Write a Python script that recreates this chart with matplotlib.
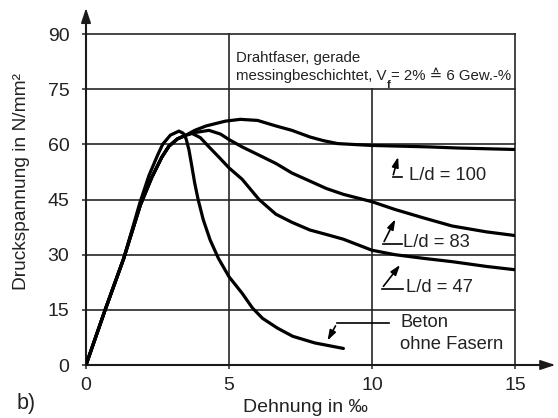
import matplotlib
matplotlib.use("Agg")
import matplotlib.pyplot as plt

plt.rcParams['font.family'] = ['Liberation Sans', 'DejaVu Sans']

# Stress-strain curves of steel-fibre concrete (strain in per mille, stress in N/mm^2)
rise_strain = [0, 0.67, 1.32, 1.9, 2.3, 2.65, 2.9, 3.2, 3.5]
rise_stress = [0, 15, 29, 43.5, 51, 56.5, 59.5, 61.5, 62.5]

ld100_strain = [3.8, 4.2, 4.87, 5.4, 6.0, 6.64, 7.2, 7.83, 8.3, 8.8, 9.5, 10, 11, 12, 13, 14, 15]
ld100_stress = [63.8, 65.0, 66.3, 66.8, 66.5, 65.0, 63.8, 62.0, 61.0, 60.2, 59.9, 59.7, 59.5, 59.3, 59.0, 58.8, 58.6]

ld83_strain = [3.8, 4.3, 4.7, 5.0, 5.46, 6.17, 6.64, 7.2, 7.83, 8.4, 9.0, 10, 10.8, 11.8, 12.8, 14, 15]
ld83_stress = [63.2, 63.8, 62.8, 61.3, 59.3, 56.6, 54.8, 52.2, 50.0, 48.0, 46.4, 44.4, 42.3, 40.0, 37.8, 36.2, 35.2]

ld47_strain = [3.7, 4.0, 4.3, 4.65, 5.0, 5.46, 6.05, 6.64, 7.2, 7.83, 8.4, 9.0, 10, 10.8, 11.8, 12.8, 14, 15]
ld47_stress = [63.0, 61.8, 59.3, 56.5, 53.6, 50.5, 45.0, 41.0, 38.8, 36.7, 35.5, 34.2, 31.2, 30.0, 29.0, 28.1, 26.8, 25.9]

plain_strain = [0, 0.67, 1.32, 1.88, 2.2, 2.5, 2.68, 2.95, 3.25, 3.4, 3.5, 3.6, 3.69, 3.8, 3.92,
                4.1, 4.34, 4.63, 5.0, 5.46, 5.82, 6.17, 6.7, 7.23, 8.0, 9.0]
plain_stress = [0, 15, 29, 44, 51.5, 57, 60, 62.5, 63.6, 63.0, 61.5, 58.5, 54.5, 49.5, 45,
                39.5, 34, 29, 24, 19.5, 15.5, 12.7, 10, 7.8, 6, 4.5]

x_ticks = [0, 5, 10, 15]
y_ticks = [0, 15, 30, 45, 60, 75, 90]

TXT = '#222222'

fig = plt.figure(figsize=(5.58, 4.18), dpi=100)
W, H = 558, 418
ax = fig.add_axes([86 / W, (H - 365) / H, 429 / W, 331 / H])
ax.set_xlim(0, 15)
ax.set_ylim(0, 90)
for s in ax.spines.values():
    s.set_visible(False)

grid_kw = dict(color='#262626', lw=1.2, zorder=1, clip_on=False)
for y in y_ticks[1:]:
    ax.plot([0, 15], [y, y], **grid_kw)
ax.plot([5, 5], [0, 90], **grid_kw)
ax.plot([10, 10], [0, 75], **grid_kw)
ax.plot([15, 15], [0, 90], **grid_kw)

# axes with arrow heads
axis_kw = dict(color='#1a1a1a', lw=1.5, zorder=3, clip_on=False)
ax.plot([0, 16.3], [0, 0], **axis_kw)
ax.plot([0, 0], [0, 94.5], **axis_kw)
ax.annotate('', xy=(16.5, 0), xytext=(15.9, 0), annotation_clip=False,
            arrowprops=dict(arrowstyle='-|>,head_length=0.9,head_width=0.3', color='#1a1a1a', lw=1.2))
ax.annotate('', xy=(0, 97.8), xytext=(0, 92), annotation_clip=False,
            arrowprops=dict(arrowstyle='-|>,head_length=0.9,head_width=0.3', color='#1a1a1a', lw=1.2))

ax.set_xticks(x_ticks)
ax.set_yticks(y_ticks)
ax.tick_params(axis='both', direction='out', length=3, width=1.1, color='#262626',
               labelsize=14, labelcolor=TXT)
ax.tick_params(axis='x', pad=6)
ax.tick_params(axis='y', pad=9)

curve_kw = dict(color='black', lw=2.3, zorder=4, solid_capstyle='round', solid_joinstyle='round')
ax.plot(rise_strain + ld100_strain, rise_stress + ld100_stress, **curve_kw)
ax.plot(rise_strain + ld83_strain, rise_stress + ld83_stress, **curve_kw)
ax.plot(rise_strain + ld47_strain, rise_stress + ld47_stress, **curve_kw)
ax.plot(plain_strain, plain_stress, **curve_kw)

# fibre description in the framed box
box_fs = 10.8
ax.text(5.25, 83.6, 'Drahtfaser, gerade', fontsize=box_fs, va='center', ha='left', color=TXT)
t1 = ax.text(5.25, 77.4, 'messingbeschichtet, V', fontsize=box_fs, va='baseline', ha='left', color=TXT)
t2 = ax.annotate('f', xy=(1, 0), xycoords=t1, xytext=(0.3, -3.2), textcoords='offset points',
                 fontsize=8, fontweight='bold', va='baseline', ha='left', color=TXT)
ax.annotate('= 2% \u2259 6 Gew.-%', xy=(1, 0), xycoords=(t2, t1), xytext=(0.2, 0),
            textcoords='offset points', fontsize=box_fs, va='bottom', ha='left', color=TXT,
            family=['Liberation Sans', 'DejaVu Sans'])

arrow_kw = dict(arrowstyle='-|>,head_length=0.6,head_width=0.2', color='black', lw=1.2)
label_fs = 13.2

def curve_label(text, tip, base, stroke_end, pos):
    ax.plot([base[0], stroke_end], [base[1], base[1]], color='black', lw=1.2, zorder=5)
    ax.annotate('', xy=tip, xytext=base, arrowprops=arrow_kw, zorder=5)
    ax.text(pos[0], pos[1], text, fontsize=label_fs, va='center', ha='left', color=TXT, zorder=5)

curve_label('L/d = 100', (10.94, 57.3), (10.72, 51.0), 11.05, (11.3, 51.4))
curve_label('L/d = 83', (10.86, 40.3), (10.38, 32.9), 11.05, (11.1, 33.3))
curve_label('L/d = 47', (11.04, 27.8), (10.34, 20.8), 11.08, (11.18, 21.0))

ax.plot([10.6, 8.77], [11.3, 11.3], color='black', lw=1.2, zorder=5)
ax.annotate('', xy=(8.4, 6.0), xytext=(8.77, 11.3), arrowprops=arrow_kw, zorder=5)
ax.text(10.98, 11.5, 'Beton', fontsize=label_fs, va='center', ha='left', color=TXT)
ax.text(10.98, 5.5, 'ohne Fasern', fontsize=label_fs, va='center', ha='left', color=TXT)

fig.text(305 / W, 1 - 407 / H, 'Dehnung in ‰', fontsize=14, ha='center', va='center', color=TXT)
fig.text(22 / W, 1 - 182 / H, 'Druckspannung in N/mm²', fontsize=13.8, ha='center', va='center',
         rotation=90, color=TXT)
fig.text(17 / W, 1 - 404 / H, 'b)', fontsize=15.5, ha='left', va='center', color=TXT)

fig.savefig('out.png', dpi=100)
